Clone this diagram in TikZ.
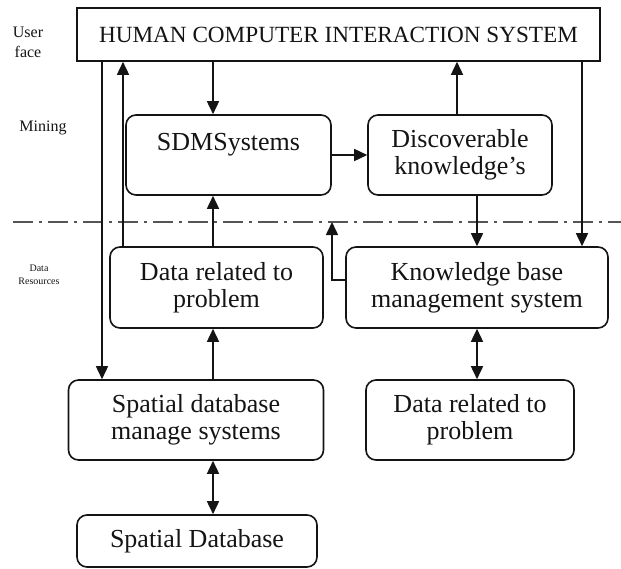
\documentclass[tikz,border=0pt]{standalone}
\usepackage{fontspec}
\setmainfont{Liberation Serif}
\usetikzlibrary{arrows.meta,calc}
\definecolor{HciInk}{RGB}{20,20,20}
\definecolor{HciDash}{RGB}{85,85,85}
\tikzset{
  hci/box/.style={
    draw=HciInk,
    line width=0.8pt,
    rounded corners=5pt,
    fill=white,
    align=center,
    text=HciInk,
    inner sep=0pt,
    font=\fontsize{13}{13.5}\selectfont
  },
  hci/top/.style={
    draw=HciInk,
    line width=0.8pt,
    fill=white,
    align=center,
    text=HciInk,
    inner sep=0pt,
    font=\fontsize{11.6}{13}\selectfont
  },
  hci/arrow/.style={-{Triangle[length=6.5pt,width=6pt]}, line width=0.8pt, draw=HciInk},
  hci/both/.style={{Triangle[length=6.5pt,width=6pt]}-{Triangle[length=6.5pt,width=6pt]}, line width=0.8pt, draw=HciInk},
  hci/sep/.style={draw=HciDash, line width=0.8pt, dash pattern=on 10pt off 3pt on 1.5pt off 3pt},
  hci/layer/.style={font=\fontsize{8}{10}\selectfont, align=center, text=HciInk},
  hci/tiny/.style={font=\fontsize{5}{6.5}\selectfont, align=center, text=HciInk}
}

\begin{document}
\begin{tikzpicture}[x=0.5pt,y=-0.5pt]
  \useasboundingbox (0,0) rectangle (621,568);
  % layers
  \node[hci/layer] (lUser) at (28,42) {User\\face};
  \node[hci/layer] (lMining) at (43,128) {Mining};
  \node[hci/tiny] (lData) at (39,275) {Data\\Resources};
  % boxes
  \node[hci/top,minimum width=261.5pt,minimum height=26.5pt] (hci) at (338.5,34.5) {HUMAN COMPUTER INTERACTION SYSTEM};
  \node[hci/box,minimum width=102.5pt,minimum height=40pt] (sdm) at (228.5,155) {SDMSystems\\\mbox{}};
  \node[hci/box,minimum width=92pt,minimum height=40pt] (disc) at (460,155) {Discoverable\\knowledge’s};
  \node[hci/box,minimum width=106.5pt,minimum height=40.5pt] (drp1) at (216.5,287.5) {Data related to\\problem};
  \node[hci/box,minimum width=131pt,minimum height=40.5pt] (kbms) at (477,287.5) {Knowledge base\\management system};
  \node[hci/box,minimum width=127.5pt,minimum height=40pt] (sdbms) at (196,420) {Spatial database\\manage systems};
  \node[hci/box,minimum width=104pt,minimum height=40pt] (drp2) at (470,420) {Data related to\\problem};
  \node[hci/box,minimum width=120pt,minimum height=26pt] (sdb) at (197,541) {Spatial Database};
  % columns of the vertical links
  \coordinate (xa) at (102,0);
  \coordinate (xb) at (123,0);
  \coordinate (xc) at (213,0);
  \coordinate (xd) at (457,0);
  \coordinate (xe) at (477,0);
  \coordinate (xf) at (582,0);
  \coordinate (elb) at (332,222);
  \coordinate (sepL) at (13,222);
  \coordinate (sepR) at (621,222);
  \draw[hci/sep] (sepL) -- (sepR);
  % links
  \draw[hci/arrow] (hci.south -| xa) -- (sdbms.north -| xa);
  \draw[hci/arrow] (drp1.north -| xb) -- (hci.south -| xb);
  \draw[hci/arrow] (hci.south -| xc) -- (sdm.north -| xc);
  \draw[hci/arrow] (drp1.north -| xc) -- (sdm.south -| xc);
  \draw[hci/arrow] (sdbms.north -| xc) -- (drp1.south -| xc);
  \draw[hci/both] (sdbms.south -| xc) -- (sdb.north -| xc);
  \draw[hci/arrow] (sdm) -- (disc);
  \draw[hci/arrow] (disc.north -| xd) -- (hci.south -| xd);
  \draw[hci/arrow] (disc.south -| xe) -- (kbms.north -| xe);
  \draw[hci/both] (kbms.south -| xe) -- (drp2.north -| xe);
  \draw[hci/arrow] (hci.south -| xf) -- (kbms.north -| xf);
  \draw[hci/arrow] ([yshift=3.75pt]kbms.west) -| (elb);
\end{tikzpicture}
\end{document}
